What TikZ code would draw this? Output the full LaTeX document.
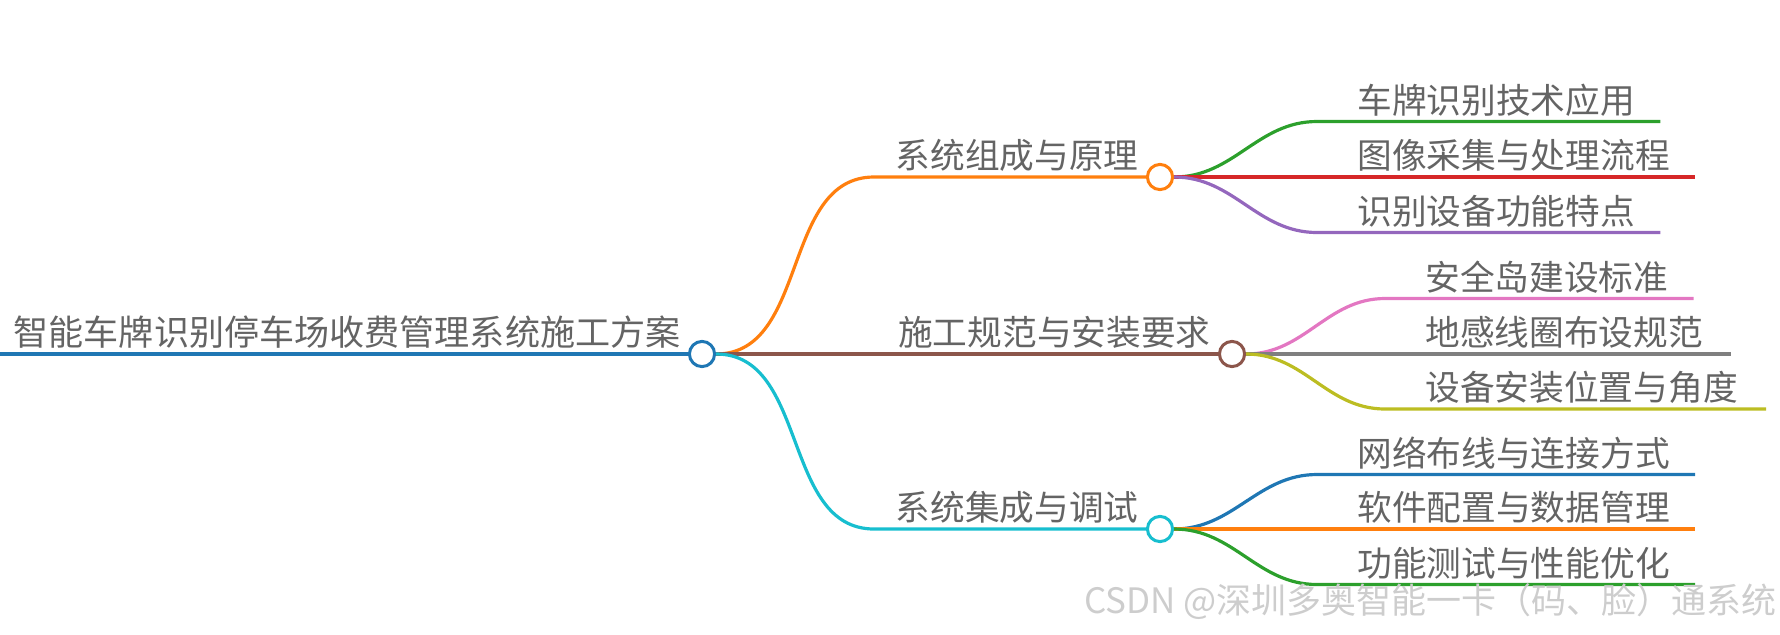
\documentclass[tikz,border=0pt]{standalone}
\usepackage{fontspec}
\setmainfont{Noto Sans CJK SC}
\usetikzlibrary{positioning}

\definecolor{txtgray}{RGB}{100,100,100}
\definecolor{markgray}{RGB}{205,205,205}
\definecolor{tbblue}{HTML}{1F77B4}
\definecolor{tborange}{HTML}{FF7F0E}
\definecolor{tbgreen}{HTML}{2CA02C}
\definecolor{tbred}{HTML}{D62728}
\definecolor{tbpurple}{HTML}{9467BD}
\definecolor{tbbrown}{HTML}{8C564B}
\definecolor{tbpink}{HTML}{E377C2}
\definecolor{tbgray}{HTML}{7F7F7F}
\definecolor{tbolive}{HTML}{BCBD22}
\definecolor{tbcyan}{HTML}{17BECF}

\begin{document}
\begin{tikzpicture}[
		x=0.5pt, y=-0.5pt,
		topic/.style={font=\fontsize{17.35pt}{20pt}\selectfont, text=txtgray, inner sep=0pt},
		knot/.style={circle, draw, fill=white, line width=1.5pt, minimum size=12.6pt, inner sep=0pt},
		branch/.style={line width=1.6pt},
		watermark/.style={font=\fontsize{17.5pt}{20pt}\selectfont, text=markgray, inner sep=0pt}
		]
		
		\useasboundingbox (0,0) rectangle (1780,634);
		
		% 1. Root
		\coordinate (r0) at (0,354);
		\node[knot, draw=tbblue] (r) at (702,354) {};
		\node[topic, font=\fontsize{17.55pt}{20pt}\selectfont] (rt) [above left=2.5pt and 3.5pt of r.west] {智能车牌识别停车场收费管理系统施工方案};
		\draw[branch, tbblue, line width=2pt] (r0) -- (r);
		
		% 2. Main topics
		\node[knot, draw=tborange] (c1) at (1160,177) {};
		\node[knot, draw=tbbrown] (c2) at (1232,354) {};
		\node[knot, draw=tbcyan] (c3) at (1160,529) {};
		\coordinate (k1) at (874,177);
		\coordinate (k3) at (874,529);
		\node[topic] (t1) [above left=2.5pt and 3.5pt of c1.west] {系统组成与原理};
		\node[topic] (t2) [above left=2.5pt and 3.5pt of c2.west] {施工规范与安装要求};
		\node[topic] (t3) [above left=2.5pt and 3.5pt of c3.west] {系统集成与调试};
		
		\draw[branch, tborange] (r.east) to[out=0, in=180] (k1) -- (c1);
		\draw[branch, tbbrown] (r) -- (c2);
		\draw[branch, tbcyan] (r.east) to[out=0, in=180] (k3) -- (c3);
		
		% 3. Sub topics of c1
		\coordinate (k11) at (1317,121.5);
		\coordinate (k12) at (1317,177);
		\coordinate (k13) at (1317,232.5);
		\node[topic] (t11) [above right=2.5pt and 20pt of k11] {车牌识别技术应用};
		\node[topic] (t12) [above right=2.5pt and 20pt of k12] {图像采集与处理流程};
		\node[topic] (t13) [above right=2.5pt and 20pt of k13] {识别设备功能特点};
		\coordinate (e11) at ([xshift=12.5pt]t11.east |- k11);
		\coordinate (e12) at ([xshift=12.5pt]t12.east |- k12);
		\coordinate (e13) at ([xshift=12.5pt]t13.east |- k13);
		\draw[branch, tbgreen] (c1.east) to[out=0, in=180] (k11) -- (e11);
		\draw[branch, tbred] (c1) -- (e12);
		\draw[branch, tbpurple] (c1.east) to[out=0, in=180] (k13) -- (e13);
		
		% 4. Sub topics of c2
		\coordinate (k21) at (1385,298.5);
		\coordinate (k22) at (1385,354);
		\coordinate (k23) at (1385,409);
		\node[topic] (t21) [above right=2.5pt and 20pt of k21] {安全岛建设标准};
		\node[topic] (t22) [above right=2.5pt and 20pt of k22] {地感线圈布设规范};
		\node[topic] (t23) [above right=2.5pt and 20pt of k23] {设备安装位置与角度};
		\coordinate (e21) at ([xshift=12.5pt]t21.east |- k21);
		\coordinate (e22) at ([xshift=14pt]t22.east |- k22);
		\coordinate (e23) at ([xshift=14pt]t23.east |- k23);
		\draw[branch, tbpink] (c2.east) to[out=0, in=180] (k21) -- (e21);
		\draw[branch, tbgray] (c2) -- (e22);
		\draw[branch, tbolive] (c2.east) to[out=0, in=180] (k23) -- (e23);
		
		% 5. Sub topics of c3
		\coordinate (k31) at (1317,474.5);
		\coordinate (k32) at (1317,529);
		\coordinate (k33) at (1317,584.5);
		\node[topic] (t31) [above right=2.5pt and 20pt of k31] {网络布线与连接方式};
		\node[topic] (t32) [above right=2.5pt and 20pt of k32] {软件配置与数据管理};
		\node[topic] (t33) [above right=2.5pt and 20pt of k33] {功能测试与性能优化};
		\coordinate (e31) at ([xshift=12.5pt]t31.east |- k31);
		\coordinate (e32) at ([xshift=12.5pt]t32.east |- k32);
		\coordinate (e33) at ([xshift=12.5pt]t33.east |- k33);
		\draw[branch, tbblue] (c3.east) to[out=0, in=180] (k31) -- (e31);
		\draw[branch, tborange] (c3) -- (e32);
		\draw[branch, tbgreen] (c3.east) to[out=0, in=180] (k33) -- (e33);
		
		% 6. Watermark
		\node[watermark, anchor=east] (wm) at (1777,602) {CSDN @深圳多奥智能一卡（码、脸）通系统};
		
	\end{tikzpicture}
\end{document}
